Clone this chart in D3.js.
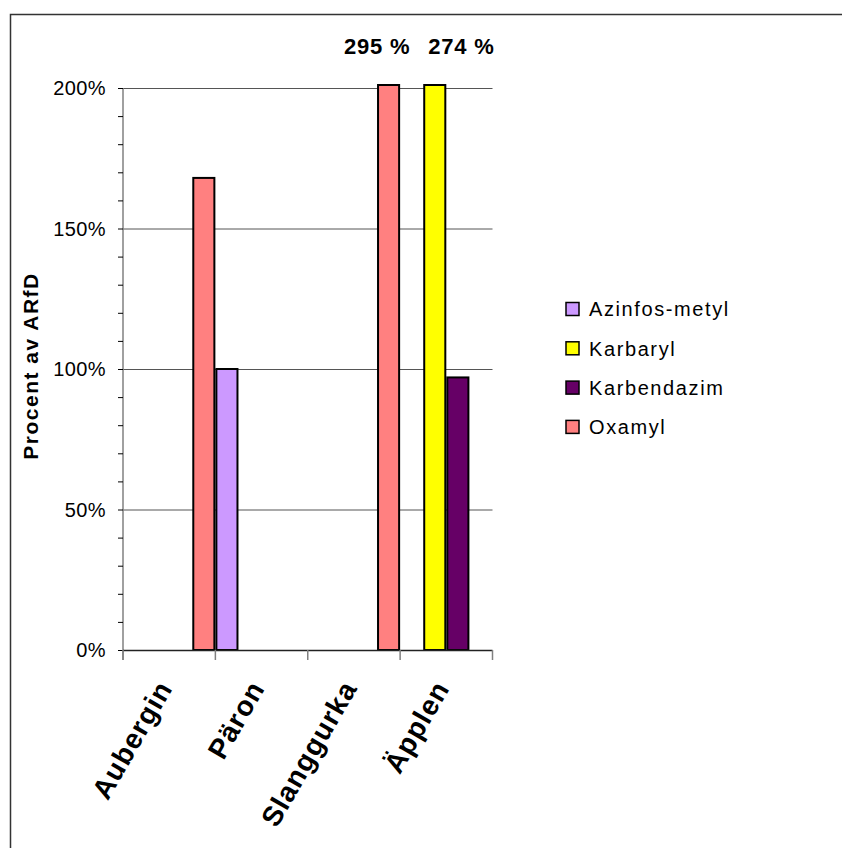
<!DOCTYPE html>
<html><head><meta charset="utf-8">
<script src="https://cdn.jsdelivr.net/npm/d3@7"></script>
<style>
html,body{margin:0;padding:0;background:#fff;}
svg text{font-family:"Liberation Sans",Arial,sans-serif;}
</style></head>
<body><svg id="chart" width="842" height="848"></svg>
<script>
const categories = ["Aubergin", "Päron", "Slanggurka", "Äpplen"];
const seriesNames = ["Azinfos-metyl", "Karbaryl", "Karbendazim", "Oxamyl"];
const azinfosMetyl = [null, 100, null, null];
const karbaryl = [null, null, null, 274];
const karbendazim = [null, null, null, 97];
const oxamyl = [168, null, 295, null];
const seriesColors = ["#CC99FF", "#FFFF00", "#660066", "#FF8080"];
const yTicks = [0, 50, 100, 150, 200];
const yMinorTicks = [0,10,20,30,40,50,60,70,80,90,100,110,120,130,140,150,160,170,180,190,200];

const seriesValues = [azinfosMetyl, karbaryl, karbendazim, oxamyl];

const svg = d3.select("#chart");
// outer frame
svg.append("rect").attr("x",10.5).attr("y",14.5).attr("width",900).attr("height",900)
  .attr("fill","none").attr("stroke","#333").attr("stroke-width",1.5);

const x = d3.scaleBand().domain(categories).range([123, 492.5]).padding(0);
const xs = d3.scaleBand().domain(seriesNames).range([0, x.bandwidth()]).padding(0);
const y = d3.scaleLinear().domain([0, 200]).range([650, 88]);
const yMax = y.domain()[1];

// gridlines
svg.append("g").selectAll("line").data(yTicks.filter(d=>d>0)).join("line")
  .attr("x1", x.range()[0]).attr("x2", x.range()[1])
  .attr("y1", d=>y(d)+0.5).attr("y2", d=>y(d)+0.5)
  .attr("stroke","#555").attr("stroke-width",1);

// bars
const barData = [];
seriesValues.forEach((vals, si) => {
  vals.forEach((v, ci) => {
    if (v != null) barData.push({cat: categories[ci], s: seriesNames[si], v, color: seriesColors[si]});
  });
});
svg.append("g").selectAll("rect").data(barData).join("rect")
  .attr("x", d => x(d.cat) + xs(d.s) + 1)
  .attr("width", xs.bandwidth() - 2)
  .attr("y", d => d.v > yMax ? y(yMax) - 3 : y(d.v))
  .attr("height", d => y(0) - (d.v > yMax ? y(yMax) - 3 : y(d.v)))
  .attr("fill", d => d.color).attr("stroke", "#000").attr("stroke-width", 2);

// overflow labels
const overflow = barData.filter(d => d.v > yMax);
const labelDx = {"Slanggurka": -33, "Äpplen": 5};
svg.append("g").selectAll("text").data(overflow).join("text")
  .attr("x", d => x(d.cat) + xs(d.s) + labelDx[d.cat])
  .attr("y", 54)
  .attr("font-size", 22).attr("font-weight","bold").attr("letter-spacing", 0.8)
  .text(d => d.v + " %");

// y axis line
svg.append("line").attr("x1",123).attr("x2",123).attr("y1",y(yMax)).attr("y2",660)
  .attr("stroke","#808080").attr("stroke-width",1.5);
// minor ticks
svg.append("g").selectAll("line").data(yMinorTicks).join("line")
  .attr("x1",118).attr("x2",123).attr("y1",d=>y(d)+0.5).attr("y2",d=>y(d)+0.5)
  .attr("stroke","#000").attr("stroke-width",1);
// tick labels
svg.append("g").selectAll("text").data(yTicks).join("text")
  .attr("x",106).attr("y",d=>y(d)).attr("dy","0.36em").attr("text-anchor","end")
  .attr("font-size",20).attr("letter-spacing",0.4).text(d=>d+"%");

// x axis
svg.append("line").attr("x1",123).attr("x2",x.range()[1]).attr("y1",650.5).attr("y2",650.5)
  .attr("stroke","#222").attr("stroke-width",1.5);
const bounds = categories.map(c => x(c)).concat([x.range()[1]]);
svg.append("g").selectAll("line").data(bounds).join("line")
  .attr("x1",d=>d).attr("x2",d=>d).attr("y1",650).attr("y2",660)
  .attr("stroke","#808080").attr("stroke-width",1.5);
svg.append("g").selectAll("text").data(categories).join("text")
  .attr("transform", d => `translate(${x(d)+x.bandwidth()/2+4},688) rotate(-60)`)
  .attr("text-anchor","end").attr("font-size",28).attr("font-weight","bold")
  .attr("letter-spacing",1).text(d=>d);

// y title
svg.append("text").attr("transform","translate(38,366) rotate(-90)")
  .attr("text-anchor","middle").attr("font-size",21).attr("font-weight","bold")
  .attr("letter-spacing",1.5).text("Procent av ARfD");

// legend
const lg = svg.append("g").selectAll("g").data(seriesNames).join("g")
  .attr("transform",(d,i)=>`translate(566,${309 + i*39.3})`);
lg.append("rect").attr("x",0).attr("y",-6.5).attr("width",13).attr("height",13)
  .attr("fill",(d,i)=>seriesColors[i]).attr("stroke","#000").attr("stroke-width",1.5);
lg.append("text").attr("x",23).attr("y",0).attr("dy","0.36em")
  .attr("font-size",20).attr("letter-spacing",1.6).text(d=>d);
</script></body></html>
